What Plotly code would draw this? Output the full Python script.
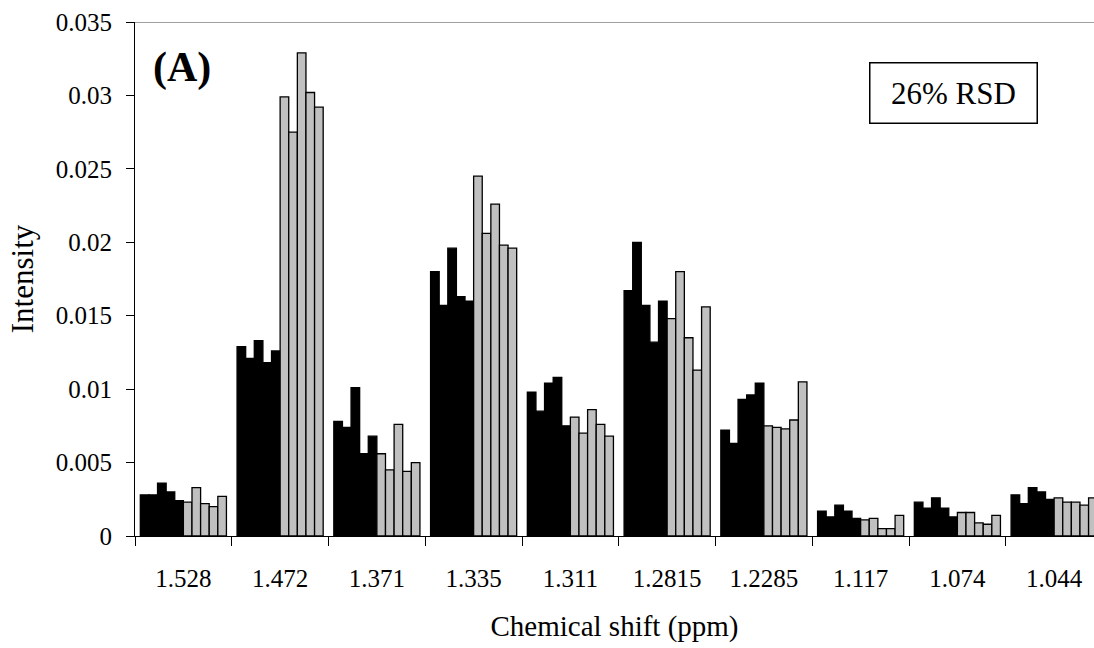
import plotly.graph_objects as go

shifts = ["1.528", "1.472", "1.371", "1.335", "1.311", "1.2815", "1.2285", "1.117", "1.074", "1.044"]

# intensities per chemical shift: 5 black samples then 5 gray samples
v_1528 = [0.0028, 0.0028, 0.0036, 0.0030, 0.0024, 0.0023, 0.0033, 0.0022, 0.0020, 0.0027]
v_1472 = [0.0129, 0.0121, 0.0133, 0.0118, 0.0126, 0.0299, 0.0275, 0.0329, 0.0302, 0.0292]
v_1371 = [0.0078, 0.0074, 0.0101, 0.0056, 0.0068, 0.0056, 0.0045, 0.0076, 0.0044, 0.0050]
v_1335 = [0.0180, 0.0157, 0.0196, 0.0163, 0.0160, 0.0245, 0.0206, 0.0226, 0.0198, 0.0196]
v_1311 = [0.0098, 0.0085, 0.0104, 0.0108, 0.0075, 0.0081, 0.0070, 0.0086, 0.0076, 0.0068]
v_12815 = [0.0167, 0.0200, 0.0157, 0.0132, 0.0160, 0.0148, 0.0180, 0.0135, 0.0113, 0.0156]
v_12285 = [0.0072, 0.0063, 0.0093, 0.0096, 0.0104, 0.0075, 0.0074, 0.0073, 0.0079, 0.0105]
v_1117 = [0.0017, 0.0013, 0.0021, 0.0017, 0.0012, 0.0011, 0.0012, 0.0005, 0.0005, 0.0014]
v_1074 = [0.0023, 0.0019, 0.0026, 0.0019, 0.0013, 0.0016, 0.0016, 0.0009, 0.0008, 0.0014]
v_1044 = [0.0028, 0.0022, 0.0033, 0.0030, 0.0025, 0.0026, 0.0023, 0.0023, 0.0021, 0.0026]

groups = [v_1528, v_1472, v_1371, v_1335, v_1311, v_12815, v_12285, v_1117, v_1074, v_1044]
sample_colors = ["#000000"] * 5 + ["#C0C0C0"] * 5

y_ticks = [0, 0.005, 0.01, 0.015, 0.02, 0.025, 0.03, 0.035]
y_tick_text = ["0", "0.005", "0.01", "0.015", "0.02", "0.025", "0.03", "0.035"]

FONT = "Liberation Serif"

fig = go.Figure()
for s in range(10):
    fig.add_trace(go.Bar(
        x=shifts,
        y=[g[s] for g in groups],
        marker=dict(color=sample_colors[s], line=dict(color="#000000", width=1.3)),
        showlegend=False,
        hoverinfo="x+y",
    ))

fig.update_layout(
    width=1094, height=648,
    margin=dict(l=135, r=0, t=22, b=112),
    paper_bgcolor="white", plot_bgcolor="white",
    barmode="group", bargap=0.11, bargroupgap=0,
    font=dict(family=FONT, size=25, color="black"),
    xaxis=dict(
        type="category",
        range=[-0.5, 9.412],
        tickson="boundaries",
        ticks="outside", ticklen=9, tickcolor="black", tickwidth=1,
        ticklabelstandoff=20,
        showline=True, linecolor="black", linewidth=1,
        showgrid=False,
        tickfont=dict(family=FONT, size=25),
        title=dict(text="Chemical shift (ppm)", font=dict(family=FONT, size=29), standoff=24),
    ),
    yaxis=dict(
        range=[0, 0.035],
        tickvals=y_ticks, ticktext=y_tick_text,
        ticks="outside", ticklen=8, tickcolor="black", tickwidth=1,
        ticklabelstandoff=9,
        showline=True, linecolor="black", linewidth=1,
        showgrid=False, zeroline=False,
        tickfont=dict(family=FONT, size=25),
        title=dict(text="Intensity", font=dict(family=FONT, size=31), standoff=12),
    ),
    shapes=[dict(type="line", xref="paper", yref="y", x0=0, x1=1, y0=0.035, y1=0.035,
                 line=dict(color="#808080", width=1.5))],
    annotations=[
        dict(text="<b>(A)</b>", xref="paper", yref="paper", x=0.017, y=0.912,
             xanchor="left", yanchor="middle", showarrow=False,
             font=dict(family=FONT, size=42, color="black")),
        dict(text="26% RSD", xref="paper", yref="paper", x=0.8535, y=0.862,
             xanchor="center", yanchor="middle", showarrow=False,
             font=dict(family=FONT, size=31, color="black"),
             bordercolor="black", borderwidth=1.5, borderpad=0,
             bgcolor="white", width=166, height=59),
    ],
)

fig.write_html("out.html")
